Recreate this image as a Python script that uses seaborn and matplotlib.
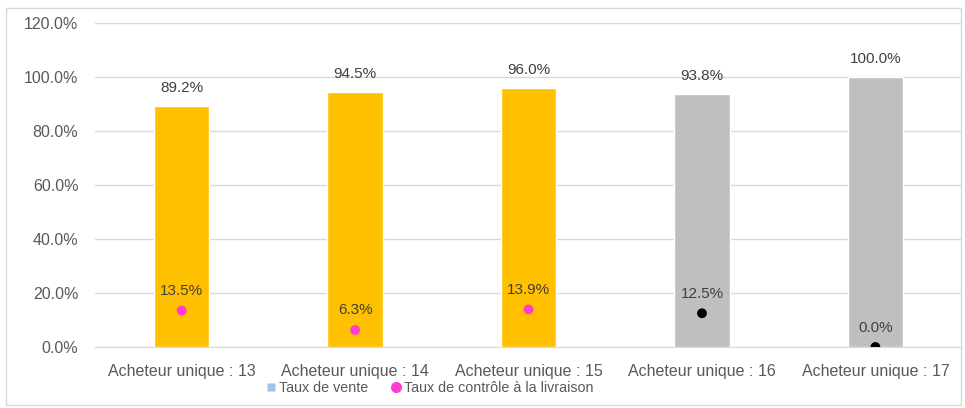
import matplotlib
matplotlib.use("Agg")
import matplotlib.pyplot as plt
import seaborn as sns
import pandas as pd
from matplotlib.lines import Line2D
from matplotlib.patches import Rectangle

# chart values
categories = ["Acheteur unique : 13", "Acheteur unique : 14", "Acheteur unique : 15",
              "Acheteur unique : 16", "Acheteur unique : 17"]
taux_vente = [89.2, 94.5, 96.0, 93.8, 100.0]
taux_controle = [13.5, 6.3, 13.9, 12.5, 0.0]
bar_colors = ["#FFC000", "#FFC000", "#FFC000", "#BFBFBF", "#BFBFBF"]
dot_colors = ["#FF3CCF", "#FF3CCF", "#FF3CCF", "#000000", "#000000"]

df = pd.DataFrame({"cat": categories, "vente": taux_vente, "controle": taux_controle})

sns.set_style("white")
plt.rcParams["font.family"] = ["Liberation Sans", "DejaVu Sans"]
text_col = "#595959"

fig = plt.figure(figsize=(9.65, 4.08), dpi=100)
ax = fig.add_axes([0.0984, 0.1495, 0.8986, 0.794])

sns.barplot(data=df, x="cat", y="vente", hue="cat", palette=bar_colors,
            legend=False, width=0.32, ax=ax, zorder=2, saturation=1)
sns.scatterplot(x=range(len(categories)), y=taux_controle, hue=categories,
                palette=dot_colors, legend=False, s=50, ax=ax, zorder=4,
                edgecolor="none")

for i, v in enumerate(taux_vente):
    ax.annotate(f"{v:.1f}%", (i, v), xytext=(0, 8), textcoords="offset points",
                ha="center", va="bottom", fontsize=11, color="#404040")
for i, v in enumerate(taux_controle):
    ax.annotate(f"{v:.1f}%", (i, v), xytext=(0, 9), textcoords="offset points",
                ha="center", va="bottom", fontsize=11, color="#404040")

ax.set_xlim(-0.5, 4.5)
ax.set_ylim(0, 120)
ax.set_yticks(range(0, 121, 20))
ax.set_yticklabels([f"{t:.1f}%" for t in range(0, 121, 20)])
ax.yaxis.grid(True, color="#D9D9D9", linewidth=1, zorder=0)
ax.set_axisbelow(True)
ax.tick_params(axis="both", length=0, labelsize=11.5, labelcolor=text_col)
ax.tick_params(axis="y", pad=12)
ax.tick_params(axis="x", pad=12)
ax.set_xlabel("")
ax.set_ylabel("")
for s in ["top", "right", "left"]:
    ax.spines[s].set_visible(False)
ax.spines["bottom"].set_color("#D9D9D9")

handles = [
    Line2D([], [], marker="s", color="none", markerfacecolor="#9DC3E6",
           markeredgecolor="none", markersize=6, label="Taux de vente"),
    Line2D([], [], marker="o", color="none", markerfacecolor="#FF3CCF",
           markeredgecolor="none", markersize=8, label="Taux de contrôle à la livraison"),
]
fig.legend(handles=handles, loc="center", bbox_to_anchor=(0.445, 0.05), ncol=2,
           frameon=False, fontsize=10.3, handlelength=0.8, handletextpad=0.2,
           columnspacing=1.5, labelcolor=text_col)

fig.patches.append(Rectangle((0.006, 0.007), 0.99, 0.973, transform=fig.transFigure,
                             fill=False, edgecolor="#D9D9D9", linewidth=1))

fig.savefig("out.png", dpi=100)
